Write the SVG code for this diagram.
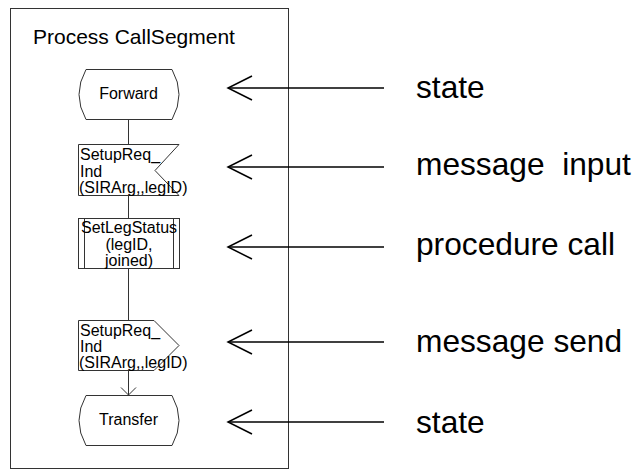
<svg xmlns="http://www.w3.org/2000/svg" width="634" height="471" viewBox="0 0 634 471">
<style>
.frame{fill:none;stroke:#333;stroke-width:1}
.sym{fill:#fff;stroke:#333;stroke-width:1}
.flow{fill:none;stroke:#333;stroke-width:1}
.ptr{fill:none;stroke:#000;stroke-width:1.5}
.t{font-family:"Liberation Sans",Arial,sans-serif;fill:#000}
.box{font-size:16px}
.lbl{font-size:31.7px;white-space:pre}
.title{font-size:21px}
</style>
<rect class="frame" x="10.5" y="8.5" width="278" height="460"/>
<text class="t title" x="33" y="44">Process CallSegment</text>
<g id="connectors">
<line class="flow" x1="128.5" y1="119" x2="128.5" y2="144"/>
<line class="flow" x1="128.5" y1="195" x2="128.5" y2="218"/>
<line class="flow" x1="128.5" y1="269" x2="128.5" y2="320"/>
<line class="flow" x1="128.5" y1="370" x2="128.5" y2="395"/>
<polyline class="flow" points="121,387.5 128.5,395 136,387.5"/>
</g>
<g id="forward">
<path class="sym" d="M86,69.5 H172 Q186,94.5 172,119.5 H86 Q72,94.5 86,69.5 Z"/>
<text class="t box" x="128.5" y="99" text-anchor="middle">Forward</text>
</g>
<g id="input">
<path class="sym" d="M78.5,144.5 H179 L155,170.5 L179,195.5 H78.5 Z"/>
<text class="t box" x="80" y="160">SetupReq_</text>
<text class="t box" x="80" y="176.5">Ind</text>
<text class="t box" x="79" y="193">(SIRArg,,legID)</text>
</g>
<g id="procedure">
<rect class="sym" x="78.5" y="218.5" width="101" height="50"/>
<line class="flow" x1="84.5" y1="218.5" x2="84.5" y2="268.5"/>
<line class="flow" x1="173.5" y1="218.5" x2="173.5" y2="268.5"/>
<text class="t box" x="129" y="233" text-anchor="middle">SetLegStatus</text>
<text class="t box" x="129" y="249.5" text-anchor="middle">(legID,</text>
<text class="t box" x="129" y="266" text-anchor="middle">joined)</text>
</g>
<g id="output">
<path class="sym" d="M78.5,320.5 H154 L179,345.5 L154,370.5 H78.5 Z"/>
<text class="t box" x="80" y="336">SetupReq_</text>
<text class="t box" x="80" y="352">Ind</text>
<text class="t box" x="79" y="368">(SIRArg,,legID)</text>
</g>
<g id="transfer">
<path class="sym" d="M86,395.5 H172 Q186,420.5 172,445.5 H86 Q72,420.5 86,395.5 Z"/>
<text class="t box" x="128.5" y="425" text-anchor="middle">Transfer</text>
</g>
<g id="pointers">
<line class="ptr" x1="228" y1="88" x2="384" y2="88"/>
<polyline class="ptr" points="252,76 228,88 252,100"/>
<line class="ptr" x1="228" y1="167" x2="384" y2="167"/>
<polyline class="ptr" points="252,155 228,167 252,179"/>
<line class="ptr" x1="228" y1="247" x2="384" y2="247"/>
<polyline class="ptr" points="252,235 228,247 252,259"/>
<line class="ptr" x1="228" y1="342" x2="384" y2="342"/>
<polyline class="ptr" points="252,330 228,342 252,354"/>
<line class="ptr" x1="228" y1="422" x2="384" y2="422"/>
<polyline class="ptr" points="252,410 228,422 252,434"/>
</g>
<g id="labels">
<text class="t lbl" x="416" y="98">state</text>
<text class="t lbl" x="416" y="175">message  input</text>
<text class="t lbl" x="416" y="255">procedure call</text>
<text class="t lbl" x="416" y="352">message send</text>
<text class="t lbl" x="416" y="433">state</text>
</g>
</svg>
